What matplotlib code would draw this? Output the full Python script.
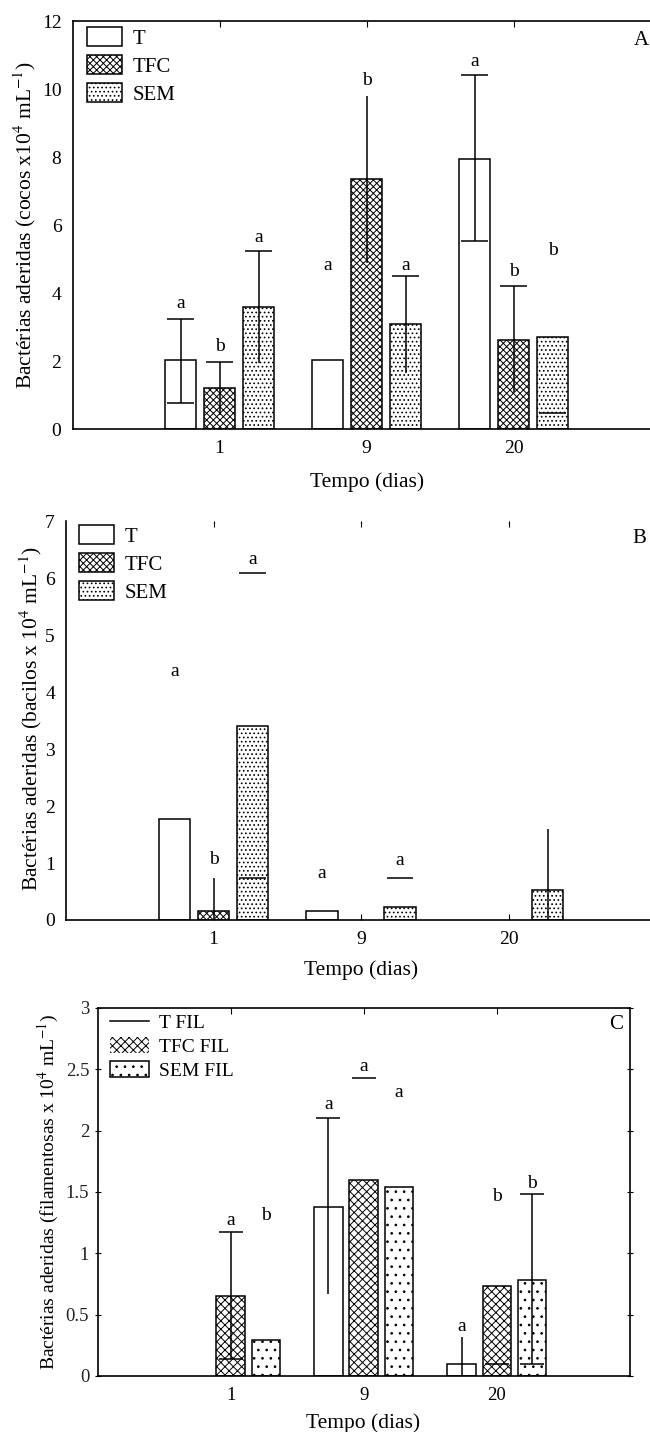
import numpy as np
import matplotlib
matplotlib.use('Agg')
import matplotlib.pyplot as plt
from matplotlib.patches import Patch
from matplotlib.lines import Line2D

plt.rcParams['font.family'] = ['Liberation Serif', 'DejaVu Serif']
plt.rcParams['mathtext.fontset'] = 'stix'
plt.rcParams['hatch.linewidth'] = 0.7

# ---------------- data ----------------
days = ['1', '9', '20']
series = ['T', 'TFC', 'SEM']

# Panel A (cocos)
A_T = [2.03, 2.03, 7.95]
A_TFC = [1.20, 7.35, 2.62]
A_SEM = [3.58, 3.09, 2.70]
A_err_T = [(0.77, 3.25), None, (5.54, 10.40)]
A_err_TFC = [(0.41, 1.98), (4.89, 9.80), (1.10, 4.22)]
A_err_SEM = [(1.93, 5.24), (1.64, 4.51), None]
A_caps_T = [[0.77, 3.25], [], [5.54, 10.40]]
A_caps_TFC = [[1.98], [], [4.22]]
A_caps_SEM = [[5.24], [4.51], [0.46]]
A_let_T = [('a', 3.70), ('a', 4.82), ('a', 10.80)]
A_let_TFC = [('b', 2.42), ('b', 10.26), ('b', 4.63)]
A_let_SEM = [('a', 5.63), ('a', 4.82), ('b', 5.26)]

# Panel B (bacilos)
B_T = [1.77, 0.16, 0.0]
B_TFC = [0.16, 0.0, 0.0]
B_SEM = [3.41, 0.23, 0.53]
B_err_T = [None, None, None]
B_err_TFC = [(0.0, 0.73), None, None]
B_err_SEM = [None, None, (0.0, 1.59)]
B_caps_T = [[], [], []]
B_caps_TFC = [[], [], []]
B_caps_SEM = [[0.74, 6.08], [0.74], []]
B_let_T = [('a', 4.36), ('a', 0.82), None]
B_let_TFC = [('b', 1.06), None, None]
B_let_SEM = [('a', 6.32), ('a', 1.04), None]

# Panel C (filamentosas)
C_T = [0.0, 1.38, 0.095]
C_TFC = [0.65, 1.60, 0.73]
C_SEM = [0.29, 1.54, 0.78]
C_err_T = [None, (0.67, 2.10), (0.0, 0.32)]
C_err_TFC = [(0.14, 1.17), None, None]
C_err_SEM = [None, None, (0.10, 1.48)]
C_caps_T = [[], [2.10], []]
C_caps_TFC = [[0.14, 1.17], [2.43], [0.095]]
C_caps_SEM = [[], [], [0.10, 1.48]]
C_let_T = [None, ('a', 2.21), ('a', 0.40)]
C_let_TFC = [('a', 1.27), ('a', 2.52), ('b', 1.46)]
C_let_SEM = [('b', 1.31), ('a', 2.31), ('b', 1.57)]

# ---------------- figure ----------------
W, H = 650, 1432
fig = plt.figure(figsize=(W / 100, H / 100), dpi=100)


def px_ax(left, top, right, bottom):
    return fig.add_axes([left / W, 1 - bottom / H, (right - left) / W, (bottom - top) / H])


axA = px_ax(72.6, 21, 660.6, 429)
axB = px_ax(66, 521, 656, 920)
axC = px_ax(97.5, 1008, 630, 1376)

LW = 1.1
OFF = 0.265
BW = 0.215
CAPW = 0.09

HATCH_AB = [None, 'xxxxx', '....']
HATCH_C = [None, 'xxxx', '..']


def draw_panel(ax, means, errs, caps, letters, hatches, fs_letter=14):
    x = np.arange(1, len(days) + 1)
    for i, s in enumerate(series):
        xs = x + (i - 1) * OFF
        for j in range(len(days)):
            v = means[i][j]
            if v > 0:
                ax.bar(xs[j], v, BW, facecolor='white', edgecolor='black',
                       hatch=hatches[i], linewidth=LW, zorder=2)
            e = errs[i][j]
            if e is not None:
                ax.vlines(xs[j], e[0], e[1], color='black', lw=LW, zorder=3)
            for c in caps[i][j]:
                ax.hlines(c, xs[j] - CAPW, xs[j] + CAPW, color='black', lw=LW, zorder=3)
            l = letters[i][j]
            if l is not None:
                ax.text(xs[j], l[1], l[0], ha='center', va='center',
                        fontsize=fs_letter, zorder=4)
    ax.set_xlim(0, 4)
    ax.set_xticks(x, days)
    for sp in ax.spines.values():
        sp.set_linewidth(1.2)


# Panel A
draw_panel(axA, [A_T, A_TFC, A_SEM], [A_err_T, A_err_TFC, A_err_SEM],
           [A_caps_T, A_caps_TFC, A_caps_SEM], [A_let_T, A_let_TFC, A_let_SEM], HATCH_AB)
axA.set_ylim(0, 12)
axA.set_yticks(np.arange(0, 13, 2))
axA.tick_params(axis='x', direction='in', top=True, length=4, labelsize=14, pad=8)
axA.tick_params(axis='y', length=0, labelsize=14, pad=8)

# Panel B
draw_panel(axB, [B_T, B_TFC, B_SEM], [B_err_T, B_err_TFC, B_err_SEM],
           [B_caps_T, B_caps_TFC, B_caps_SEM], [B_let_T, B_let_TFC, B_let_SEM], HATCH_AB)
axB.set_ylim(0, 7)
axB.set_yticks(np.arange(0, 8, 1))
axB.spines['top'].set_visible(False)
axB.tick_params(axis='x', direction='in', top=True, length=4, labelsize=14, pad=8)
axB.tick_params(axis='y', length=0, labelsize=14, pad=8)

# Panel C
draw_panel(axC, [C_T, C_TFC, C_SEM], [C_err_T, C_err_TFC, C_err_SEM],
           [C_caps_T, C_caps_TFC, C_caps_SEM], [C_let_T, C_let_TFC, C_let_SEM], HATCH_C)
axC.set_ylim(0, 3)
axC.set_yticks([0, 0.5, 1, 1.5, 2, 2.5, 3], ['0', '0.5', '1', '1.5', '2', '2.5', '3'])
axC.tick_params(axis='x', direction='in', top=True, length=4, labelsize=13.5, pad=8)
axC.tick_params(axis='y', direction='inout', length=4, labelsize=13.5, pad=4,
                labelcolor='#222222', right=True)

# ---------------- legends ----------------
def legend_box(ax, labels, hatches, anchor, fs):
    handles = [Patch(facecolor='white', edgecolor='black', hatch=h, linewidth=LW) for h in hatches]
    ax.legend(handles, labels, loc='upper left', bbox_to_anchor=anchor, frameon=False,
              fontsize=fs, handlelength=1.7, handleheight=1.05, labelspacing=0.3,
              handletextpad=0.5, borderpad=0, borderaxespad=0)


legend_box(axA, series, HATCH_AB, (0.0245, 0.985), 15)
legend_box(axB, series, HATCH_AB, (0.022, 0.99), 15)

hC = [Line2D([0], [0], color='black', lw=LW),
      Patch(facecolor='white', edgecolor='black', hatch='xxxx', linewidth=0),
      Patch(facecolor='white', edgecolor='black', hatch='..', linewidth=LW)]
axC.legend(hC, ['T FIL', 'TFC FIL', 'SEM FIL'], loc='upper left', bbox_to_anchor=(0.024, 0.985),
           frameon=False, fontsize=14, handlelength=2.0, handleheight=0.9, labelspacing=0.25,
           handletextpad=0.5, borderpad=0, borderaxespad=0)

# panel letters
axA.text(0.967, 0.953, 'A', transform=axA.transAxes, ha='center', va='center', fontsize=15)
axB.text(0.971, 0.957, 'B', transform=axB.transAxes, ha='center', va='center', fontsize=15)
axC.text(0.974, 0.954, 'C', transform=axC.transAxes, ha='center', va='center', fontsize=15)

# ---------------- axis labels ----------------
def ftext(x, y, s, **kw):
    fig.text(x / W, 1 - y / H, s, ha='center', va='center', **kw)


ftext(367, 482, 'Tempo (dias)', fontsize=15.5)
ftext(361, 970, 'Tempo (dias)', fontsize=15.5)
ftext(363, 1423, 'Tempo (dias)', fontsize=15.5)
ftext(25, 225, r'Bactérias aderidas (cocos x10$^{4}$ mL$^{-1}$)', fontsize=15.5, rotation=90)
ftext(31, 719, r'Bactérias aderidas (bacilos x 10$^{4}$ mL$^{-1}$)', fontsize=15.5, rotation=90)
ftext(48, 1192, r'Bactérias aderidas (filamentosas x 10$^{4}$ mL$^{-1}$)', fontsize=14, rotation=90)

fig.savefig('out.png', dpi=100)
